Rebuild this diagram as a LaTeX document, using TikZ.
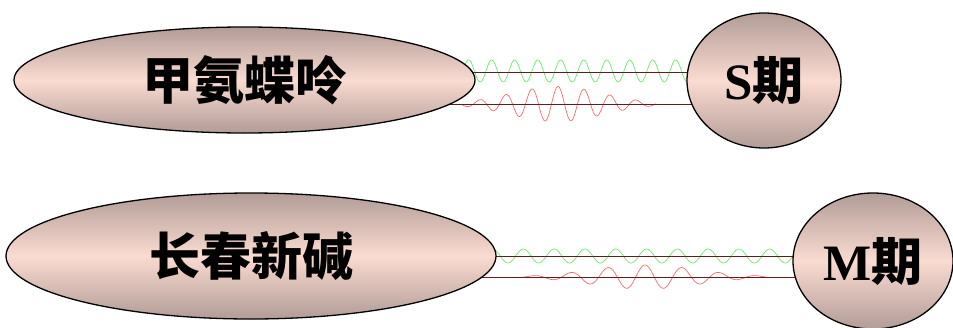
\documentclass[tikz,border=0pt]{standalone}
\usepackage{fontspec}
\setmainfont{Liberation Serif}
\newfontfamily\cjk{Noto Sans CJK SC}
\usepackage{tikz}
\usetikzlibrary{shapes.geometric,backgrounds,calc}
\definecolor{pkdark}{RGB}{178,156,151}
\definecolor{pklight}{RGB}{250,219,209}
\definecolor{linkred}{RGB}{92,30,30}
\definecolor{wavegreen}{RGB}{105,235,105}
\definecolor{wavered}{RGB}{250,105,105}

\begin{document}
\begin{tikzpicture}[
  x=1pt, y=-1pt,
  drug/.style={ellipse, draw=black, line width=1.3pt, inner sep=0pt,
    top color=pkdark, bottom color=pkdark, middle color=pklight,
    font=\cjk\bfseries\fontsize{51}{56}\selectfont},
  link/.style={draw=linkred, line width=0.9pt},
  gwave/.style={wavegreen, line width=0.7pt},
  rwave/.style={wavered, line width=0.7pt}
]
\useasboundingbox (0,0) rectangle (953,327);

% ── Drugs (left) and phases (right) ──────────────────────────────────────
\node[drug, minimum width=461pt, minimum height=106pt] (mtx) at (244.5,80) {甲氨蝶呤};
\node[drug, minimum width=490pt, minimum height=126pt] (vcr) at (251,256) {长春新碱};
\node[drug, minimum width=154pt, minimum height=135pt] (sph) at (764,80.5) {\textrm{S}期};
\node[drug, minimum width=160pt, minimum height=136pt] (mph) at (873,261) {\textrm{M}期};

% ── Anchor points of the links ───────────────────────────────────────────
\coordinate (mtxa) at ($(mtx.center)+(0,-8)$);
\coordinate (mtxb) at ($(mtx.center)+(0,24)$);
\coordinate (vcra) at (vcr.center);
\coordinate (vcrb) at ($(vcr.center)+(0,21)$);

\begin{scope}[on background layer]
% ── Waves: S phase ───────────────────────────────────────────────────────
\draw[gwave] plot[domain=460:692, samples=260, smooth]
  (\x, {71 - 11*cos(360/23*(\x-491.7))});
\draw[rwave] plot[domain=462:656, samples=260, smooth]
  (\x, {104 - 17.5*exp(-((\x-557)/65)*((\x-557)/65))*cos(360/26*(\x-558))});
% ── Waves: M phase ───────────────────────────────────────────────────────
\draw[gwave] plot[domain=490:800, samples=260, smooth]
  (\x, {256 - 7*cos(360/30.8*(\x-523.3))});
\draw[rwave] plot[domain=515:778, samples=260, smooth]
  (\x, {277 - 12*exp(-((\x-645)/75)*((\x-645)/75))*cos(360/37*(\x-645))});
% ── Links ────────────────────────────────────────────────────────────────
\draw[link] (mtxa) -- (mtxa -| sph.center);
\draw[link] (mtxb) -- (mtxb -| sph.center);
\draw[link] (vcra) -- (vcra -| mph.center);
\draw[link] (vcrb) -- (vcrb -| mph.center);
\end{scope}

\end{tikzpicture}
\end{document}
